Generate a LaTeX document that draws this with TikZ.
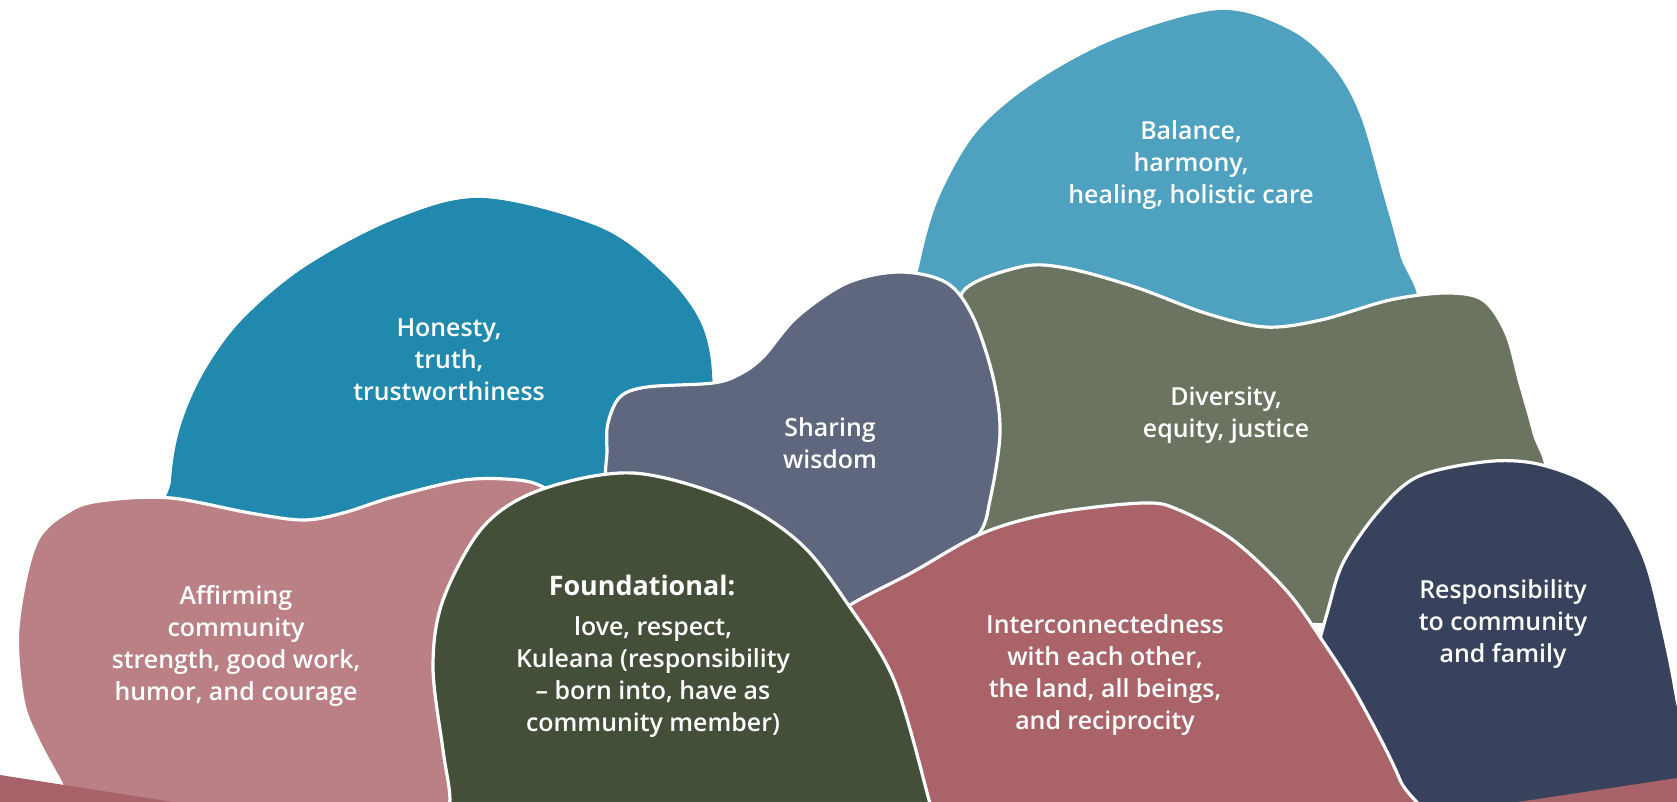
\documentclass[tikz,border=0pt]{standalone}
\usepackage{fontspec}
\newfontfamily\lblfont{Open Sans Semibold}
\newfontfamily\lblboldfont{Open Sans}
\definecolor{chonest}{HTML}{2189AD}
\definecolor{cbal}{HTML}{4EA1BF}
\definecolor{cshare}{HTML}{5E677D}
\definecolor{cdiv}{HTML}{6A7461}
\definecolor{caff}{HTML}{BA8086}
\definecolor{cfound}{HTML}{444F39}
\definecolor{cinter}{HTML}{A96369}
\definecolor{cresp}{HTML}{39425C}
\definecolor{cband}{HTML}{A8636A}
\tikzset{
  blob/.style={line width=3.2bp, draw=white},
  lbl/.style={text=white, align=center, inner sep=0pt, font=\lblfont\fontsize{25}{32.3}\selectfont},
  lblb/.style={text=white, align=center, inner sep=0pt, font=\lblboldfont\bfseries\fontsize{27}{32}\selectfont},
}
\begin{document}
\begin{tikzpicture}[x=1bp,y=-1bp]
\useasboundingbox (0,0) rectangle (1677,802);
\clip (0,0) rectangle (1677,802);
% Honesty
\fill[chonest] plot[smooth cycle, tension=0.55] coordinates {(483,198) (599,227) (663,273) (700,321) (712,374) (705,440) (600,520) (400,545) (172,545) (171,481) (180,428) (203,374) (241,321) (305,267) (396,219)};
% Balance
\fill[cbal] plot[smooth cycle, tension=0.55] coordinates {(1220,10) (1290,30) (1333,67) (1360,115) (1382,190) (1400,255) (1412,310) (1300,345) (1000,345) (915,305) (919,267) (938,200) (976,133) (1034,83) (1118,38)};
% Diversity
\filldraw[cdiv, blob] plot[smooth cycle, tension=0.55] coordinates {(962,293) (1020,267) (1066,268) (1135,287) (1205,313) (1265,327) (1321,320) (1390,300) (1446,293) (1483,300) (1506,333) (1520,383) (1534,433) (1545,480) (1500,560) (1380,620) (1250,620) (1100,600) (990,580) (970,520) (985,430) (975,350)};
% Sharing wisdom
\filldraw[cshare, blob] plot[smooth cycle, tension=0.55] coordinates {(900,272) (947,283) (973,317) (993,377) (1000,433) (990,500) (977,537) (920,600) (850,640) (760,580) (660,520) (610,490) (607,450) (608,423) (620,397) (647,387) (713,383) (740,374) (763,357) (797,317) (847,283)};
% Affirming
\filldraw[caff, blob] plot[smooth cycle, tension=0.55] coordinates {(75,810) (61,783) (38,740) (23,700) (18,627) (36,543) (71,510) (107,500) (171,498) (250,513) (303,520) (343,513) (393,497) (464,480) (518,480) (545,488) (575,510) (500,650) (470,830) (200,840)};
% Responsibility
\filldraw[cresp, blob] plot[smooth cycle, tension=0.55] coordinates {(1315,660) (1328,610) (1343,563) (1377,513) (1417,477) (1483,462) (1533,463) (1583,480) (1617,507) (1645,560) (1662,625) (1677,700) (1700,850) (1380,850) (1300,740)};
% Interconnectedness
\filldraw[cinter, blob] plot[smooth cycle, tension=0.55] coordinates {(847,607) (911,573) (983,533) (1054,513) (1143,503) (1179,510) (1233,540) (1286,590) (1322,640) (1358,697) (1400,780) (1420,850) (1100,880) (900,850) (870,720) (830,630)};
% Foundational
\filldraw[cfound, blob] plot[smooth cycle, tension=0.55] coordinates {(633,473) (733,500) (800,543) (847,603) (894,680) (929,800) (940,850) (700,870) (445,850) (450,800) (443,750) (433,667) (443,600) (483,527) (540,490)};
% bottom band
\fill[cband] (0,775) -- (186,804) -- (1505,804) -- (1677,778) -- (1677,810) -- (0,810) -- cycle;
% labels
\node[lbl] (honesty) at (449,360) {Honesty,\\truth,\\trustworthiness};
\node[lbl] (balance) at (1191,165) {Balance,\\harmony,\\healing, holistic care};
\node[lbl] (sharing) at (830,443) {Sharing\\wisdom};
\node[lbl] (diversity) at (1226,415) {Diversity,\\equity, justice};
\node[lbl] (affirming) at (236,646) {Affirming\\community\\strength, good work,\\humor, and courage};
\node[lblb, anchor=base] (foundhead) at (642,595) {Foundational:};
\node[lbl] (foundtext) at (653,677) {love, respect,\\Kuleana (responsibility\\– born into, have as\\community member)};
\node[lbl] (inter) at (1105,675) {Interconnectedness\\with each other,\\the land, all beings,\\and reciprocity};
\node[lbl] (resp) at (1503,624) {Responsibility\\to community\\and family};
\end{tikzpicture}
\end{document}
